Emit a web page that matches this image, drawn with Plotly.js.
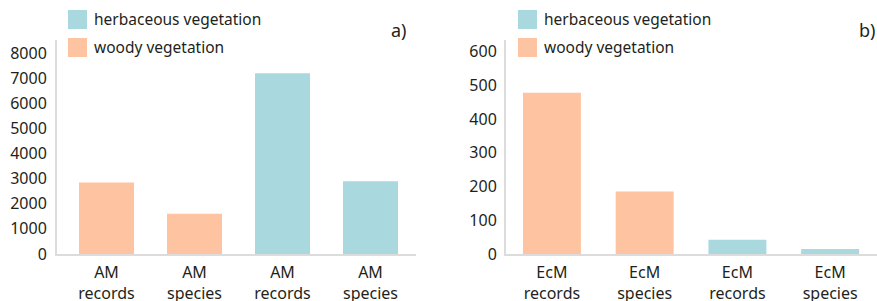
<!DOCTYPE html>
<html>
<head>
<meta charset="utf-8">
<script src="https://cdn.plot.ly/plotly-3.0.1.min.js"></script>
<style>html,body{margin:0;padding:0;background:#fff;}#chart{width:877px;height:301px;}</style>
</head>
<body>
<div id="chart"></div>
<script>
// Panel a) AM
const categoriesA = ["AM<br>records", "AM<br>species", "AM<br>records", "AM<br>species"];
const woodyA = [2850, 1600, null, null];
const herbA = [null, null, 7200, 2900];
const yTicksA = [0, 1000, 2000, 3000, 4000, 5000, 6000, 7000, 8000];

// Panel b) EcM
const categoriesB = ["EcM<br>records", "EcM<br>species", "EcM<br>records", "EcM<br>species"];
const woodyB = [478, 185, null, null];
const herbB = [null, null, 42, 15];
const yTicksB = [0, 100, 200, 300, 400, 500, 600];

const seriesNames = ["herbaceous vegetation", "woody vegetation"];
const panelLabels = ["a)", "b)"];

const HERB = "#aad8df";
const WOOD = "#fec3a0";
const TXT = "#231f20";
const FONT = "Noto Sans, Open Sans, sans-serif";

const idxA = categoriesA.map((_, i) => i);
const idxB = categoriesB.map((_, i) => i);

const W = 877, H = 301;
const px = v => v / W;
const py = v => 1 - v / H;

const traces = [
  {type: "bar", x: idxA, y: woodyA, xaxis: "x", yaxis: "y", width: 0.625, marker: {color: WOOD}, name: seriesNames[1], showlegend: false, hoverinfo: "skip"},
  {type: "bar", x: idxA, y: herbA, xaxis: "x", yaxis: "y", width: 0.625, marker: {color: HERB}, name: seriesNames[0], showlegend: false, hoverinfo: "skip"},
  {type: "bar", x: idxB, y: woodyB, xaxis: "x2", yaxis: "y2", width: 0.625, marker: {color: WOOD}, name: seriesNames[1], showlegend: false, hoverinfo: "skip"},
  {type: "bar", x: idxB, y: herbB, xaxis: "x2", yaxis: "y2", width: 0.625, marker: {color: HERB}, name: seriesNames[0], showlegend: false, hoverinfo: "skip"}
];

const yDom = [py(254), py(40)];
const axisCommon = {
  showgrid: false, zeroline: false, showline: true, linecolor: "#dcdcdc", linewidth: 2,
  ticks: "", tickfont: {family: FONT, size: 16, color: TXT}, fixedrange: true
};

const layout = {
  width: W, height: H,
  margin: {l: 0, r: 0, t: 0, b: 0},
  paper_bgcolor: "#fff", plot_bgcolor: "#fff",
  barmode: "overlay",
  showlegend: false,
  font: {family: FONT, color: TXT},
  xaxis: Object.assign({}, axisCommon, {domain: [px(57), px(416)], range: [-0.5625, 3.517], tickvals: idxA, ticktext: categoriesA, anchor: "y", ticklabelstandoff: 3}),
  yaxis: Object.assign({}, axisCommon, {domain: yDom, range: [0, 8520], tickvals: yTicksA, anchor: "x", ticklabelstandoff: 5}),
  xaxis2: Object.assign({}, axisCommon, {domain: [px(506), 1], range: [-0.495, 3.505], tickvals: idxB, ticktext: categoriesB, anchor: "y2", ticklabelstandoff: 3}),
  yaxis2: Object.assign({}, axisCommon, {domain: yDom, range: [0, 634], tickvals: yTicksB, anchor: "x2", ticklabelstandoff: 4}),
  shapes: [],
  annotations: []
};

// custom legends (swatches + labels) for each panel
const legendX = [68, 518];
const panelLabelX = [409, 877];
legendX.forEach((lx, p) => {
  [HERB, WOOD].forEach((c, k) => {
    const top = 10 + k * 28;
    layout.shapes.push({type: "rect", xref: "paper", yref: "paper", x0: px(lx), x1: px(lx + 19), y0: py(top + 19), y1: py(top), fillcolor: c, line: {width: 0}});
    layout.annotations.push({xref: "paper", yref: "paper", x: px(lx + 24), y: py(top + 9), xanchor: "left", yanchor: "middle", text: seriesNames[k], showarrow: false, font: {family: FONT, size: 15.5, color: TXT}});
  });
  layout.annotations.push({xref: "paper", yref: "paper", x: px(panelLabelX[p]), y: py(30), xanchor: "right", yanchor: "middle", text: panelLabels[p], showarrow: false, font: {family: FONT, size: 18, color: TXT}});
});

Plotly.newPlot("chart", traces, layout, {staticPlot: true, displayModeBar: false});
</script>
</body>
</html>
